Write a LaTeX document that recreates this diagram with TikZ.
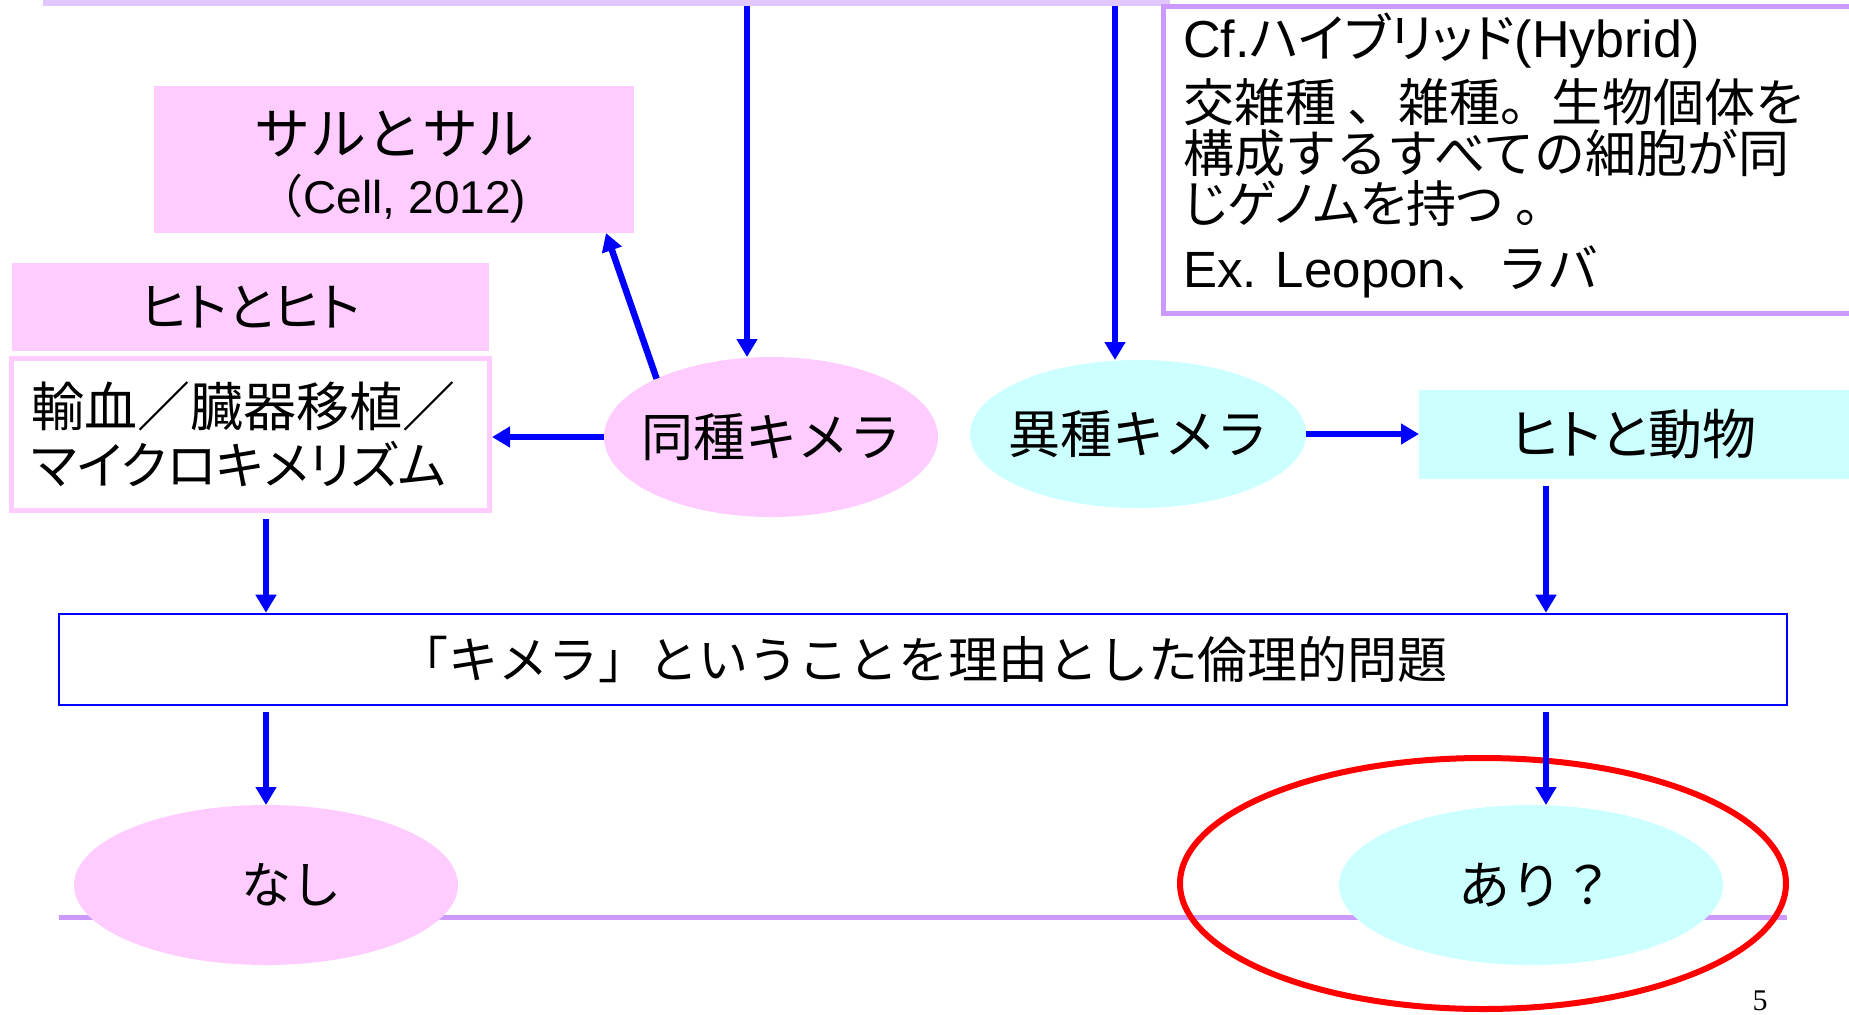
\documentclass[tikz,border=0pt]{standalone}
\usepackage{fontspec}
\setmainfont{Liberation Sans}
\newfontfamily\jp{Noto Sans CJK JP}
\newfontfamily\jpp{Noto Sans CJK JP}[RawFeature=+palt]
\newfontfamily\lat{Liberation Sans}
\newfontfamily\sr{Liberation Serif}
\usetikzlibrary{shapes.geometric,arrows.meta,calc}
\definecolor{pinkc}{RGB}{255,204,255}
\definecolor{cyanc}{RGB}{204,255,255}
\definecolor{purp}{RGB}{204,153,255}
\definecolor{toplav}{RGB}{224,200,255}
\definecolor{arrblue}{RGB}{0,0,255}
\begin{document}
\begin{tikzpicture}[x=0.5pt,y=-0.5pt,font=\jp,
  arr/.style={draw=arrblue,line width=3.25pt,-{Triangle[length=9pt,width=10pt]}},
  pinkbox/.style={rectangle,fill=pinkc,inner sep=0pt,outer sep=0pt},
  cyanbox/.style={rectangle,fill=cyanc,inner sep=0pt,outer sep=0pt},
  pinkell/.style={ellipse,fill=pinkc,inner sep=0pt,outer sep=0pt},
  cyanell/.style={ellipse,fill=cyanc,inner sep=0pt,outer sep=0pt},
  big/.style={font=\jp\fontsize{26}{26}\selectfont},
  cftext/.style={anchor=base west,inner sep=0pt}]
\useasboundingbox (0,0) rectangle (1849,1014);
% background rules
\draw[draw=toplav,line width=3pt] (43,3) -- (1170,3);
\draw[draw=purp,line width=2.5pt] (59,917) -- (1787,917);

% Cf. box
\node[rectangle,draw=purp,line width=2.5pt,fill=white,anchor=north west,
      inner sep=0pt,outer sep=0pt,minimum width=350pt,minimum height=153.5pt] (cf) at (1163.5,6.5) {};
\node[cftext,font=\jpp\fontsize{26}{26}\selectfont] (cf1) at (1183,57) {{\lat Cf.}ハイブリッド{\lat (Hybrid)}};
\node[cftext,font=\jp\fontsize{25.5}{26}\selectfont] (cf2) at (1183,121) {交雑種 、雑種。生物個体を};
\node[cftext,font=\jp\fontsize{25.5}{26}\selectfont] (cf3) at (1183,172) {構成するすべての細胞が同};
\node[cftext,font=\jpp\fontsize{25}{26}\selectfont] (cf4) at (1183,222) {じゲノムを持つ 。};
\node[cftext,font=\jp\fontsize{25.5}{26}\selectfont] (cf5) at (1183,287) {{\lat Ex. Leopon}、ラバ};

% left column
\node[pinkbox,minimum width=240pt,minimum height=73.5pt] (saru) at (394,159.5) {};
\node[inner sep=0pt,font=\jp\fontsize{28}{28}\selectfont] (saru1) at (394,134) {サルとサル};
\node[inner sep=0pt,font=\jp\fontsize{23}{23}\selectfont] (saru2) at (392,199) {（{\lat Cell, 2012)}};
\node[pinkbox,minimum width=238.5pt,minimum height=44pt,font=\jpp\fontsize{26}{26}\selectfont] (hh) at (250.5,307) {ヒトとヒト};
\node[rectangle,draw=pinkc,line width=2.5pt,fill=white,minimum width=239pt,minimum height=76pt,
      text width=219pt,inner xsep=10pt,inner ysep=0pt,align=left] (yk) at (250.5,434.5)
  {{\jp\fontsize{26.5}{26}\selectfont 輸血／臓器移植／}\\[4pt]{\jpp\fontsize{25.5}{26}\selectfont マイクロキメリズム}};

% chimera ellipses
\node[pinkell,minimum width=167pt,minimum height=80pt,big] (ds) at (771,437) {\makebox[0pt]{同種キメラ}};
\node[cyanell,minimum width=168pt,minimum height=74pt,big] (is) at (1138,434) {\makebox[0pt]{異種キメラ}};
\node[cyanbox,minimum width=215pt,minimum height=44.5pt,font=\jpp\fontsize{27}{27}\selectfont] (an) at (1634,434.5) {ヒトと動物};

% main question box
\node[rectangle,draw=arrblue,line width=1.3pt,fill=white,minimum width=864pt,minimum height=45.5pt,
      font=\jp\fontsize{25}{25}\selectfont] (mq) at (923,659.5) {「キメラ」ということを理由とした倫理的問題};

% outcomes
\node[pinkell,minimum width=192pt,minimum height=80pt,font=\jp\fontsize{25}{25}\selectfont] (nashi) at (266,885) {\makebox[0pt]{\hspace*{25pt}なし}};
\node[cyanell,minimum width=192pt,minimum height=80pt,big] (ari) at (1531,885) {\makebox[0pt]{\hspace*{5pt}あり？}};
\node[ellipse,draw=red,line width=3pt,inner sep=0pt,minimum width=303pt,minimum height=125.5pt] (hl) at (1483,883.5) {};

\node[font=\sr\fontsize{15}{15}\selectfont,inner sep=0pt] (pg) at (1760,1001) {5};

% connectors
\coordinate (t1) at (747,6);
\coordinate (t2) at (1115,6);
\coordinate (xl) at (266,0);
\coordinate (xr) at (1546,0);
\draw[arr] (t1) -- (t1 |- ds.north);
\draw[arr] (t2) -- (t2 |- is.north);
\draw[arr] (ds.153) -- ($(saru.south east)+(-28,0)$);
\draw[arr] (ds.west) -- (ds.west -| yk.east);
\draw[arr] (is.east) -- (is.east -| an.west);
\draw[arr,shorten <=3pt] (xl |- yk.south) -- (xl |- mq.north);
\draw[arr,shorten <=3.5pt] (xr |- an.south) -- (xr |- mq.north);
\draw[arr,shorten <=3pt] (xl |- mq.south) -- (xl |- nashi.north);
\draw[arr,shorten <=3pt] (xr |- mq.south) -- (xr |- ari.north);
\end{tikzpicture}
\end{document}
